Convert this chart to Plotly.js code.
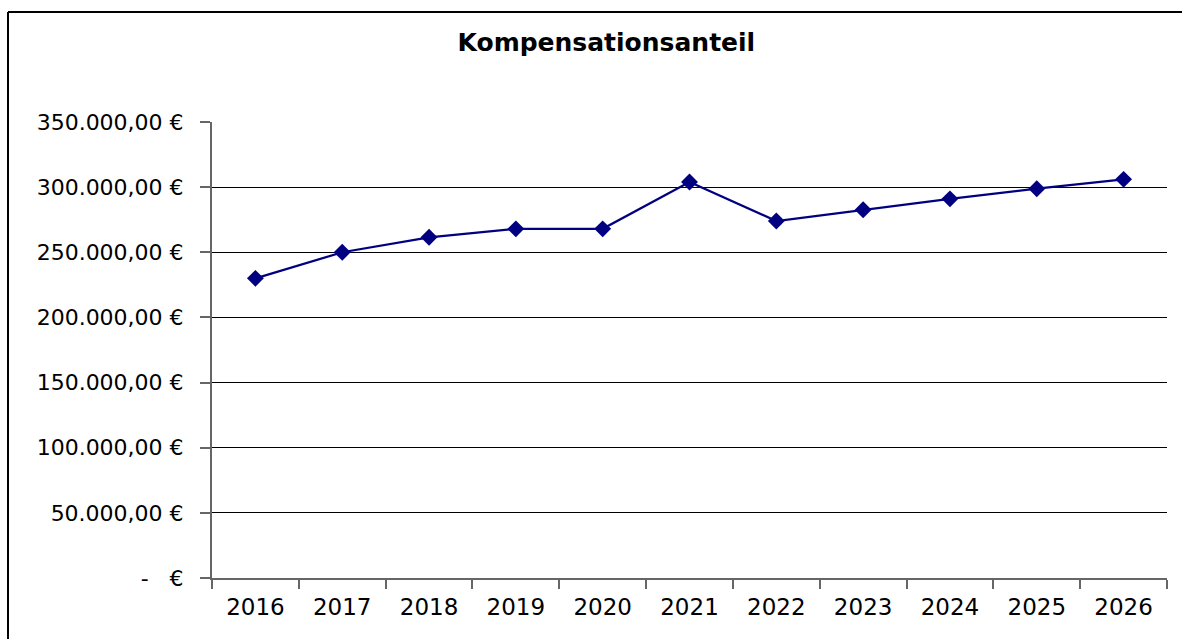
<!DOCTYPE html>
<html>
<head>
<meta charset="utf-8">
<script src="https://cdn.plot.ly/plotly-3.0.1.min.js"></script>
<style>html,body{margin:0;padding:0;background:#fff;}#chart{width:1182px;height:639px;}</style>
</head>
<body>
<div id="chart"></div>
<script>
const years = ["2016","2017","2018","2019","2020","2021","2022","2023","2024","2025","2026"];
const values = [230000, 250000, 261500, 268000, 268000, 304000, 274000, 282700, 291000, 298800, 306000];
const yTickVals = [0, 50000, 100000, 150000, 200000, 250000, 300000, 350000];
const yTickText = ["-\u00a0\u00a0\u00a0€", "50.000,00 €", "100.000,00 €", "150.000,00 €", "200.000,00 €", "250.000,00 €", "300.000,00 €", "350.000,00 €"];
const chartTitle = "Kompensationsanteil";

const trace = {
  x: years, y: values, type: "scatter", mode: "lines+markers",
  line: {color: "#000080", width: 2.2},
  marker: {symbol: "diamond", size: 13, color: "#000080"},
  hoverinfo: "skip"
};

const layout = {
  width: 1182, height: 639,
  margin: {l: 212, r: 15, t: 122, b: 61},
  paper_bgcolor: "#fff", plot_bgcolor: "#fff",
  font: {family: "DejaVu Sans, Verdana, sans-serif", size: 23, color: "#000"},
  title: {text: "<b>" + chartTitle + "</b>", font: {size: 25, color: "#000", family: "DejaVu Sans, sans-serif"},
          xref: "container", yref: "container", x: 0.513, xanchor: "center", y: 1 - 42/639, yanchor: "middle"},
  showlegend: false,
  xaxis: {type: "category", range: [-0.5, 10.5], autorange: false, tickson: "boundaries", ticks: "outside", ticklen: 9, tickcolor: "#666", tickwidth: 2,
          showline: true, linecolor: "#666", linewidth: 2, showgrid: false, zeroline: false,
          tickfont: {size: 23}, ticklabelstandoff: 7, fixedrange: true},
  yaxis: {range: [0, 350000], autorange: false, tickvals: yTickVals, ticktext: yTickText, ticks: "outside", ticklen: 10,
          tickcolor: "#666", tickwidth: 2, showline: true, linecolor: "#666", linewidth: 2,
          showgrid: true, gridcolor: "#000", gridwidth: 1, zeroline: false,
          tickfont: {size: 22}, ticklabelstandoff: 12, fixedrange: true},
  shapes: [
    {type: "line", xref: "paper", yref: "paper", x0: (8-212)/955, x1: 1.05, y0: (578-12)/456, y1: (578-12)/456, line: {color: "#000", width: 2}},
    {type: "line", xref: "paper", yref: "paper", x0: (8-212)/955, x1: (8-212)/955, y0: (578-12)/456, y1: -0.2, line: {color: "#000", width: 2}}
  ]
};
Plotly.newPlot("chart", [trace], layout, {displayModeBar: false, staticPlot: true});
</script>
</body>
</html>
